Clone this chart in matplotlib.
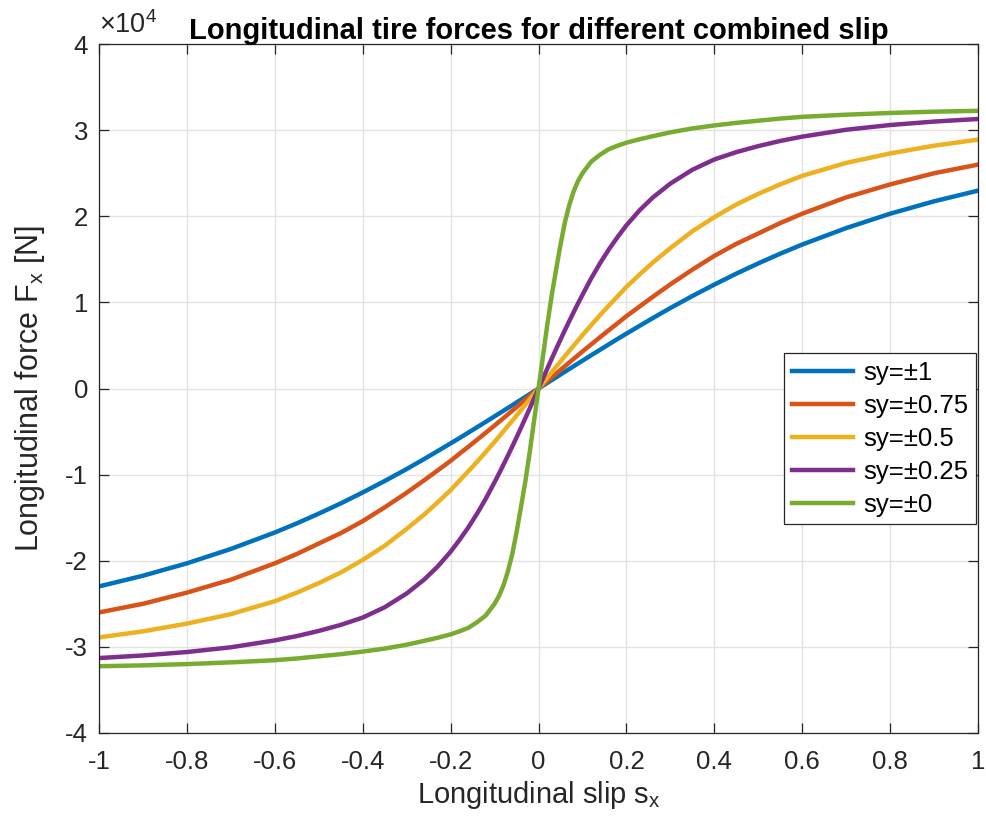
import numpy as np
import matplotlib
matplotlib.use("Agg")
import matplotlib.pyplot as plt

plt.rcParams['font.family'] = ['Liberation Sans', 'DejaVu Sans']
plt.rcParams['mathtext.fontset'] = 'custom'
plt.rcParams['mathtext.rm'] = 'Liberation Sans'
plt.rcParams['axes.unicode_minus'] = False

# longitudinal slip s_x
slip = [-1.0, -0.9, -0.8, -0.7, -0.6, -0.55, -0.5, -0.45, -0.4, -0.35, -0.3, -0.26, -0.23,
        -0.2, -0.18, -0.16, -0.14, -0.12, -0.1, -0.09, -0.08, -0.07, -0.06, -0.05,
        -0.04, -0.03, -0.02, -0.01,
        0.0,
        0.01, 0.02, 0.03, 0.04, 0.05, 0.06, 0.07, 0.08, 0.09, 0.1, 0.12, 0.14, 0.16,
        0.18, 0.2, 0.23, 0.26, 0.3, 0.35, 0.4, 0.45, 0.5, 0.55, 0.6, 0.7, 0.8, 0.9, 1.0]

# Fx in units of 1e4 N
fx_sy100 = [-2.298, -2.174, -2.03, -1.863, -1.672, -1.566, -1.453, -1.334, -1.207, -1.074,
            -0.935, -0.818, -0.728, -0.637, -0.576, -0.513, -0.45, -0.387, -0.323, -0.291,
            -0.259, -0.227, -0.195, -0.162, -0.13, -0.0975, -0.065, -0.0325,
            0.0,
            0.0325, 0.065, 0.0975, 0.13, 0.162, 0.195, 0.227, 0.259, 0.291, 0.323, 0.387,
            0.45, 0.513, 0.576, 0.637, 0.728, 0.818, 0.935, 1.074, 1.207, 1.334, 1.453,
            1.566, 1.672, 1.863, 2.03, 2.174, 2.298]
fx_sy075 = [-2.60, -2.50, -2.37, -2.22, -2.03, -1.922, -1.80, -1.68, -1.54, -1.38,
            -1.21, -1.065, -0.953, -0.84, -0.758, -0.678, -0.596, -0.513, -0.43, -0.387,
            -0.345, -0.302, -0.259, -0.216, -0.173, -0.13, -0.087, -0.043,
            0.0,
            0.043, 0.087, 0.13, 0.173, 0.216, 0.259, 0.302, 0.345, 0.387, 0.43, 0.513,
            0.596, 0.678, 0.758, 0.84, 0.953, 1.065, 1.21, 1.38, 1.54, 1.68, 1.80,
            1.922, 2.03, 2.22, 2.37, 2.50, 2.60]
fx_sy050 = [-2.89, -2.82, -2.73, -2.62, -2.47, -2.371, -2.26, -2.137, -1.99, -1.826,
            -1.63, -1.463, -1.324, -1.18, -1.071, -0.963, -0.852, -0.737, -0.62, -0.559,
            -0.498, -0.437, -0.376, -0.314, -0.252, -0.189, -0.126, -0.063,
            0.0,
            0.063, 0.126, 0.189, 0.252, 0.314, 0.376, 0.437, 0.498, 0.559, 0.62, 0.737,
            0.852, 0.963, 1.071, 1.18, 1.324, 1.463, 1.63, 1.826, 1.99, 2.137, 2.26,
            2.371, 2.47, 2.62, 2.73, 2.82, 2.89]
fx_sy025 = [-3.13, -3.10, -3.06, -3.005, -2.925, -2.875, -2.815, -2.745, -2.66, -2.54,
            -2.38, -2.218, -2.07, -1.895, -1.76, -1.615, -1.455, -1.28, -1.088, -0.989,
            -0.887, -0.783, -0.677, -0.568, -0.458, -0.345, -0.231, -0.116,
            0.0,
            0.116, 0.231, 0.345, 0.458, 0.568, 0.677, 0.783, 0.887, 0.989, 1.088, 1.28,
            1.455, 1.615, 1.76, 1.895, 2.07, 2.218, 2.38, 2.54, 2.66, 2.745, 2.815,
            2.875, 2.925, 3.005, 3.06, 3.10, 3.13]
fx_sy000 = [-3.225, -3.215, -3.20, -3.18, -3.155, -3.135, -3.11, -3.085, -3.055, -3.02,
            -2.975, -2.93, -2.895, -2.855, -2.82, -2.78, -2.715, -2.635, -2.50, -2.41,
            -2.29, -2.13, -1.93, -1.67, -1.38, -1.08, -0.74, -0.37,
            0.0,
            0.37, 0.74, 1.08, 1.38, 1.67, 1.93, 2.13, 2.29, 2.41, 2.50, 2.635,
            2.715, 2.78, 2.82, 2.855, 2.895, 2.93, 2.975, 3.02, 3.055, 3.085, 3.11,
            3.135, 3.155, 3.18, 3.20, 3.215, 3.225]

labels = ['sy=\u00b11', 'sy=\u00b10.75', 'sy=\u00b10.5', 'sy=\u00b10.25', 'sy=\u00b10']
colors = ['#0072BD', '#D95319', '#EDB120', '#7E2F8E', '#77AC30']
series = [fx_sy100, fx_sy075, fx_sy050, fx_sy025, fx_sy000]

x_ticks = [-1, -0.8, -0.6, -0.4, -0.2, 0, 0.2, 0.4, 0.6, 0.8, 1]
y_ticks = [-4, -3, -2, -1, 0, 1, 2, 3, 4]

fig = plt.figure(figsize=(9.87, 8.3), dpi=100)
ax = fig.add_axes([0.1003, 0.1169, 0.8906, 0.830])

for fx, lab, col in zip(series, labels, colors):
    ax.plot(slip, fx, color=col, linewidth=3.2, label=lab)

ax.set_xlim(-1, 1)
ax.set_ylim(-4, 4)
ax.set_xticks(x_ticks)
ax.set_xticklabels(['%g' % t for t in x_ticks])
ax.set_yticks(y_ticks)
ax.set_yticklabels(['%g' % t for t in y_ticks])
ax.grid(True, color='#e3e3e3', linewidth=1.0)
ax.set_axisbelow(True)
ax.tick_params(direction='in', length=7, width=0.9, color='#262626', labelcolor='#262626',
               labelsize=18.5, top=True, right=True)
ax.tick_params(axis='x', pad=12)
ax.tick_params(axis='y', pad=8)
for sp in ax.spines.values():
    sp.set_color('#262626')
    sp.set_linewidth(0.9)

ax.set_xlabel('Longitudinal slip s$_\\mathregular{x}$', fontsize=21, color='#262626', labelpad=4)
ax.set_ylabel('Longitudinal force F$_\\mathregular{x}$ [N]', fontsize=22, color='#262626', labelpad=13)
ax.set_title('Longitudinal tire forces for different combined slip', fontsize=21,
             fontweight='bold', pad=4)
ax.text(0.0, 1.008, '\u00d710$^\\mathregular{4}$', transform=ax.transAxes, fontsize=19.5,
        color='#262626', ha='left', va='bottom')

leg = ax.legend(loc='upper right', bbox_to_anchor=(0.9977, 0.5515), borderaxespad=0,
                fontsize=18.5, handlelength=2.37, fancybox=False, framealpha=1,
                edgecolor='#262626', labelspacing=0.35, borderpad=0.3, handletextpad=0.4)
leg.get_frame().set_linewidth(0.9)

fig.savefig('out.png', dpi=100)
